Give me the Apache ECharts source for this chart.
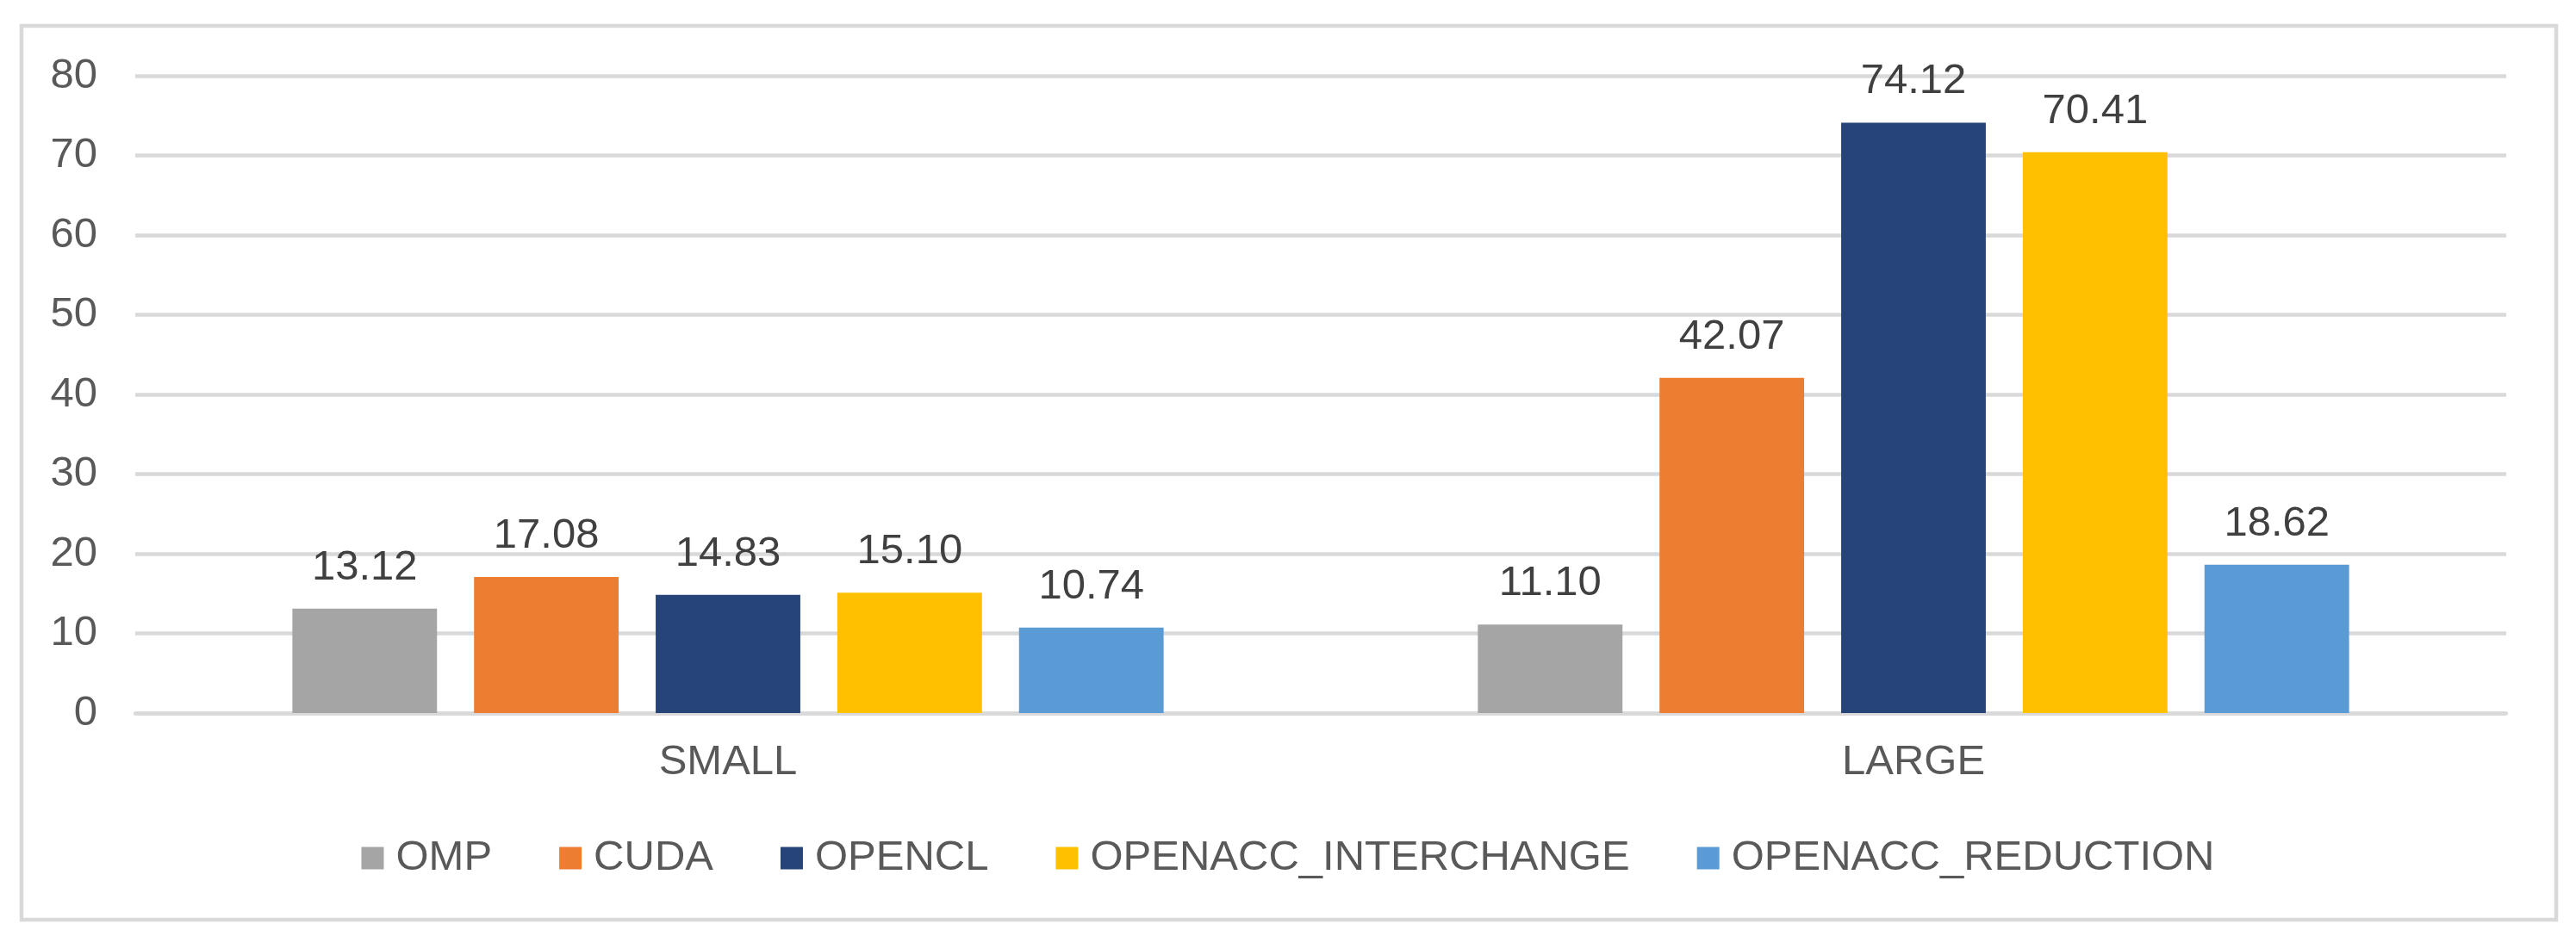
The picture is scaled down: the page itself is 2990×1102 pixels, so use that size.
<!DOCTYPE html>
<html>
<head>
<meta charset="utf-8">
<script src="https://cdn.jsdelivr.net/npm/echarts@6/dist/echarts.min.js"></script>
<style>
html,body{margin:0;padding:0;background:#fff;}
#c{width:2990px;height:1102px;}
</style>
</head>
<body>
<div id="c"></div>
<script>
const categories = ['SMALL', 'LARGE'];
const seriesNames = ['OMP', 'CUDA', 'OPENCL', 'OPENACC_INTERCHANGE', 'OPENACC_REDUCTION'];
const ompValues = [13.12, 11.10];
const cudaValues = [17.08, 42.07];
const openclValues = [14.83, 74.12];
const interchangeValues = [15.10, 70.41];
const reductionValues = [10.74, 18.62];
const yTicks = [0, 10, 20, 30, 40, 50, 60, 70, 80];
const colors = ['#A5A5A5', '#ED7D31', '#264478', '#FFC000', '#5B9BD5'];

const allValues = [ompValues, cudaValues, openclValues, interchangeValues, reductionValues];
const FONT = '"Liberation Sans", Arial, sans-serif';

const chart = echarts.init(document.getElementById('c'));
chart.setOption({
  animation: false,
  color: colors,
  graphic: [{
    type: 'rect',
    shape: {x: 25, y: 30, width: 2942, height: 1038},
    style: {fill: 'none', stroke: '#d9d9d9', lineWidth: 4.5},
    silent: true
  }],
  grid: {left: 157, right: 81, top: 88, bottom: 274, containLabel: false},
  legend: {
    data: seriesNames,
    top: 967,
    left: 'center',
    icon: 'rect',
    itemWidth: 26,
    itemHeight: 26,
    itemGap: 78,
    textStyle: {fontFamily: FONT, fontSize: 49, color: '#595959', padding: [0, 0, 0, 9]}
  },
  xAxis: {
    type: 'category',
    data: categories,
    axisLine: {lineStyle: {color: '#d9d9d9', width: 4.5}},
    axisTick: {show: false},
    axisLabel: {fontFamily: FONT, fontSize: 49, color: '#595959', margin: 33}
  },
  yAxis: {
    type: 'value',
    min: yTicks[0],
    max: yTicks[yTicks.length - 1],
    interval: 10,
    axisLine: {show: false},
    axisTick: {show: false},
    splitLine: {lineStyle: {color: '#d9d9d9', width: 4.5}},
    axisLabel: {fontFamily: FONT, fontSize: 49, color: '#595959', margin: 44}
  },
  series: seriesNames.map((name, i) => ({
    name: name,
    type: 'bar',
    data: allValues[i],
    barWidth: '12.2%',
    barGap: '25.6%',
    label: {
      show: true,
      position: 'top',
      distance: 23,
      fontFamily: FONT,
      fontSize: 49,
      color: '#404040',
      formatter: p => p.value.toFixed(2)
    }
  }))
});
</script>
</body>
</html>
